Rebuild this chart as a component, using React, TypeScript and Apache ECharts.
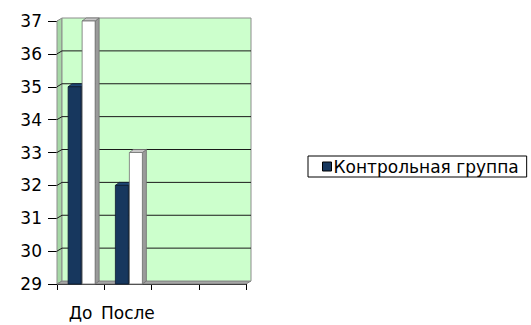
import React, { useEffect, useRef } from "react";
import * as echarts from "echarts";

// Chart data
const categories = ["До", "После", "", ""];
const controlName = "Контрольная группа";
const experimentName = "Экспериментальная группа";
const controlValues = [35, 32];
const experimentValues = [37, 33];
const yMin = 29;
const yMax = 37;
const yStep = 1;

// 3D look: depth offset of the walls and of the columns
const WALL_DX = 5;
const WALL_DY = -3;
const BAR_DX = 4;
const BAR_DY = -3;
const BAR_W = 13;

const FONT = "'DejaVu Sans', 'Noto Sans', sans-serif";

function renderWalls(params: any, api: any) {
  const cs = params.coordSys;
  const left = cs.x;
  const right = cs.x + cs.width;
  const top = cs.y;
  const bottom = cs.y + cs.height;
  const children: any[] = [
    {
      type: "polygon",
      shape: {
        points: [
          [left, top],
          [left + WALL_DX, top + WALL_DY],
          [left + WALL_DX, bottom + WALL_DY],
          [left, bottom],
        ],
      },
      style: { fill: "#A6D8A6", stroke: "#8C8C8C", lineWidth: 1 },
    },
    {
      type: "polygon",
      shape: {
        points: [
          [left, bottom],
          [left + WALL_DX, bottom + WALL_DY],
          [right + WALL_DX, bottom + WALL_DY],
          [right, bottom],
        ],
      },
      style: { fill: "#A6A6A6", stroke: "#808080", lineWidth: 1 },
    },
    {
      type: "rect",
      shape: { x: left + WALL_DX, y: top + WALL_DY, width: cs.width, height: cs.height },
      style: { fill: "#CCFFCC", stroke: "#8C8C8C", lineWidth: 1 },
    },
  ];
  for (let v = yMin + yStep; v < yMax; v += yStep) {
    const y = api.coord([0, v])[1];
    children.push({
      type: "polyline",
      shape: {
        points: [
          [left, y],
          [left + WALL_DX, y + WALL_DY],
          [right + WALL_DX, y + WALL_DY],
        ],
      },
      style: { fill: "none", stroke: "#1A1A1A", lineWidth: 1 },
    });
  }
  return { type: "group", children };
}

function makeColumnRenderer(offset: number, front: string, side: string, topFace: string, edge: string) {
  return (params: any, api: any) => {
    const idx = api.value(0);
    const v = api.value(1);
    const [cx, yTop] = api.coord([idx, v]);
    const yBase = api.coord([idx, yMin])[1];
    const x0 = cx + offset;
    const x1 = x0 + BAR_W;
    return {
      type: "group",
      children: [
        {
          type: "polygon",
          shape: {
            points: [
              [x1, yTop],
              [x1 + BAR_DX, yTop + BAR_DY],
              [x1 + BAR_DX, yBase + BAR_DY],
              [x1, yBase],
            ],
          },
          style: { fill: side, stroke: edge, lineWidth: 0.8 },
        },
        {
          type: "polygon",
          shape: {
            points: [
              [x0, yTop],
              [x0 + BAR_DX, yTop + BAR_DY],
              [x1 + BAR_DX, yTop + BAR_DY],
              [x1, yTop],
            ],
          },
          style: { fill: topFace, stroke: edge, lineWidth: 0.8 },
        },
        {
          type: "rect",
          shape: { x: x0, y: yTop, width: BAR_W, height: yBase - yTop },
          style: { fill: front, stroke: edge, lineWidth: 0.8 },
        },
      ],
    };
  };
}

export default function App() {
  const ref = useRef<HTMLDivElement>(null);

  useEffect(() => {
    if (!ref.current) return;
    const chart = echarts.init(ref.current, null, { renderer: "svg" });
    chart.setOption({
      animation: false,
      backgroundColor: "#FFFFFF",
      textStyle: { fontFamily: FONT },
      grid: { left: 57, top: 21, width: 189, height: 263, containLabel: false },
      legend: {
        data: [controlName],
        left: 308,
        top: 156,
        orient: "vertical",
        icon: "rect",
        itemWidth: 9,
        itemHeight: 9,
        itemGap: 0,
        padding: [2, 8, 2, 14],
        borderColor: "#000000",
        borderWidth: 1,
        itemStyle: { borderColor: "#000000", borderWidth: 1 },
        textStyle: { fontSize: 17, color: "#000000", fontFamily: FONT, padding: [0, 0, 0, -3] },
      },
      xAxis: {
        type: "category",
        data: categories,
        axisLine: { show: true, lineStyle: { color: "#000000", width: 1 } },
        axisTick: { show: true, length: 6, lineStyle: { color: "#000000" } },
        axisLabel: { fontSize: 17, color: "#000000", margin: 20, interval: 0, fontFamily: FONT },
        splitLine: { show: false },
      },
      yAxis: {
        type: "value",
        min: yMin,
        max: yMax,
        interval: yStep,
        axisLine: { show: true, lineStyle: { color: "#000000", width: 1 } },
        axisTick: { show: true, length: 9, lineStyle: { color: "#000000" } },
        axisLabel: { fontSize: 17, color: "#000000", margin: 15, fontFamily: FONT },
        splitLine: { show: false },
      },
      series: [
        {
          name: "walls",
          type: "custom",
          renderItem: renderWalls,
          data: [[0, yMin]],
          encode: { x: 0, y: 1 },
          clip: false,
          silent: true,
          z: 1,
        },
        {
          name: controlName,
          type: "custom",
          renderItem: makeColumnRenderer(-12.5, "#17375E", "#0E2440", "#1F4775", "#0A1A30"),
          data: controlValues.map((v, i) => [i, v]),
          encode: { x: 0, y: 1 },
          itemStyle: { color: "#17375E" },
          clip: false,
          z: 3,
        },
        {
          name: experimentName,
          type: "custom",
          renderItem: makeColumnRenderer(1.5, "#FFFFFF", "#9A9A9A", "#C8C8C8", "#707070"),
          data: experimentValues.map((v, i) => [i, v]),
          encode: { x: 0, y: 1 },
          itemStyle: { color: "#FFFFFF" },
          clip: false,
          z: 3,
        },
      ],
    });
    return () => chart.dispose();
  }, []);

  return (
    <div
      ref={ref}
      style={{ position: "fixed", left: 0, top: 0, width: 531, height: 325 }}
    />
  );
}
